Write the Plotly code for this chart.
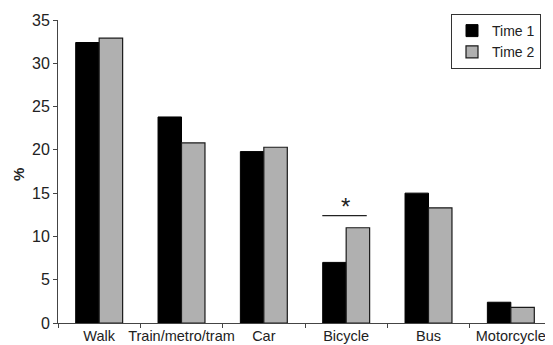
import plotly.graph_objects as go

categories = ["Walk", "Train/metro/tram", "Car", "Bicycle", "Bus", "Motorcycle"]
time1 = [32.4, 23.8, 19.8, 7.0, 15.0, 2.4]
time2 = [32.9, 20.8, 20.3, 11.0, 13.3, 1.8]
y_ticks = [0, 5, 10, 15, 20, 25, 30, 35]

FONT = "Liberation Sans, Arial, sans-serif"

# the page body adds an 8px offset; lay the figure out in page coordinates minus 8
OFF = 8
W, H = 553 - OFF, 345 - OFF
L, R = 58 - OFF, 552 - OFF      # plot area left/right (figure px)
T, B = 20 - OFF, 323 - OFF      # plot area top/bottom (figure px)
PW, PH = R - L, B - T

def px(xp):
    return (xp - OFF - L) / PW

def py(yp):
    return (B - (yp - OFF)) / PH

fig = go.Figure()
fig.add_trace(go.Bar(x=categories, y=time1, name="Time 1",
                     marker=dict(color="#000000", line=dict(color="#000000", width=1))))
fig.add_trace(go.Bar(x=categories, y=time2, name="Time 2",
                     marker=dict(color="#b0b0b0", line=dict(color="#1a1a1a", width=1.2))))

# significance marker over Bicycle
fig.add_shape(type="line", xref="x", yref="y", x0=2.71, x1=3.25, y0=12.4, y1=12.4,
              line=dict(color="#222222", width=1.2))
fig.add_annotation(x=2.99, y=13.5, xref="x", yref="y", text="*", showarrow=False,
                   xanchor="center", yanchor="middle",
                   font=dict(size=24, color="#222222", family=FONT))
# y-axis title
fig.add_annotation(x=px(18), y=py(175), xref="paper", yref="paper", text="<b>%</b>",
                   showarrow=False, textangle=-90, xanchor="center", yanchor="middle",
                   font=dict(size=15, color="#222222", family=FONT))

fig.update_layout(
    width=W, height=H,
    margin=dict(l=L, r=W - R, t=T, b=H - B, autoexpand=False),
    paper_bgcolor="white", plot_bgcolor="white",
    barmode="group", bargap=0.43, bargroupgap=0,
    font=dict(family=FONT, size=15, color="#222222"),
    showlegend=True,
    legend=dict(x=px(541), y=py(14), xanchor="right", yanchor="top",
                bordercolor="#333333", borderwidth=1, bgcolor="white",
                font=dict(size=14, family=FONT, color="#222222"), itemwidth=30,
                tracegroupgap=0),
    xaxis=dict(range=[-0.5, 5.5], showline=True, linecolor="#444444", linewidth=1,
               ticks="outside", tickson="boundaries", ticklen=4, tickcolor="#444444",
               showgrid=False, tickangle=0, automargin=False,
               tickfont=dict(size=14.5, family=FONT, color="#222222")),
    yaxis=dict(range=[0, 35], tickvals=y_ticks, showline=True, linecolor="#444444",
               linewidth=1, ticks="outside", ticklen=4, tickcolor="#444444",
               showgrid=False, zeroline=False, automargin=False,
               tickfont=dict(size=16, family=FONT, color="#222222")),
)

fig.write_html("out.html")
